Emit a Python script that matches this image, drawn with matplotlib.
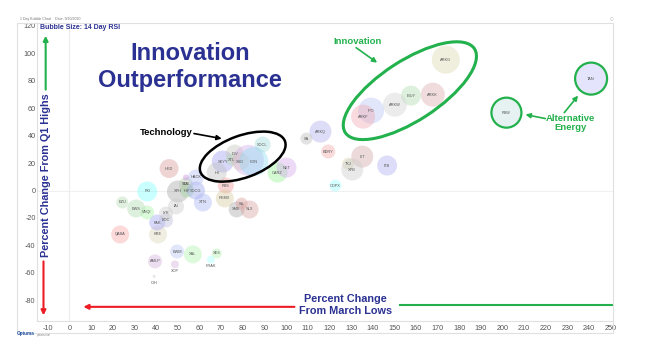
import numpy as np
import matplotlib.pyplot as plt
from matplotlib.patches import Ellipse, Rectangle
from matplotlib.transforms import ScaledTranslation

plt.rcParams['font.family'] = ['Liberation Sans', 'DejaVu Sans']
plt.rcParams['axes.unicode_minus'] = False

# data: % change from March lows (x), % change from Q1 highs (y), 14 day RSI (size)
tickers = ['HED', 'FXI', 'XPH', 'IHF', 'GDX', 'SOCG', 'HACK', 'ITA', 'XTN', 'IAI',
           'PBS', 'REMX', 'XME', 'SIL', 'SLX', 'SKYY', 'IGV', 'XTL', 'XSD', 'CIBR',
           'FDN', 'IHI', 'SOCL', 'CARZ', 'NET', 'ARKQ', 'SA', 'BDRY', 'LIT', 'TKJ',
           'XPB', 'COPX', 'ITB', 'ARKG', 'ARKK', 'IBUY', 'ARKW', 'IPO', 'ARKF', 'TAN',
           'PBW', 'QABA', 'KRE', 'PAK', 'EOC', 'IYR', 'VNQI', 'EZU', 'EWS', 'EWM',
           'XAL', 'FRAK', 'XES', 'AMLP', 'XOP', 'OIH']
from_march_lows = [46.0, 35.9, 50.1, 54.3, 53.8, 58.4, 58.4, 53.8, 61.6, 49.2,
                   72.2, 71.7, 77.2, 79.5, 83.2, 70.8, 76.3, 75.0, 78.9, 82.6,
                   85.1, 68.0, 89.2, 96.1, 100.2, 115.9, 109.4, 119.5, 135.2, 128.7,
                   130.6, 122.8, 146.7, 173.8, 167.8, 157.7, 150.3, 139.3, 135.6, 240.9,
                   201.8, 23.4, 40.9, 40.5, 44.6, 44.6, 35.9, 24.4, 30.8, 49.7,
                   57.0, 65.3, 68.0, 39.5, 48.7, 39.1]
from_q1_highs = [16.0, -0.7, -0.7, 0.0, 4.4, 0.0, 9.5, 9.5, -8.7, -11.6,
                 3.6, -5.8, -13.8, -9.5, -13.8, 21.1, 26.9, 22.5, 21.1, 22.0,
                 21.1, 13.1, 33.5, 13.1, 16.7, 42.9, 37.8, 28.4, 24.7, 19.6,
                 15.3, 3.6, 18.2, 95.3, 69.8, 69.1, 62.5, 58.2, 53.8, 81.5,
                 56.7, -32.0, -32.0, -23.3, -21.8, -16.7, -16.0, -8.7, -13.1, -44.4,
                 -46.5, -50.2, -45.8, -51.6, -53.8, -62.5]
rsi_14 = [38, 40, 44, 28, 28, 36, 32, 12, 36, 32,
          32, 36, 32, 24, 36, 44, 36, 24, 36, 62,
          58, 40, 32, 40, 40, 44, 24, 28, 44, 24,
          44, 24, 40, 56, 48, 40, 48, 52, 48, 64,
          60, 36, 36, 32, 28, 28, 28, 24, 36, 28,
          36, 16, 20, 28, 16, 6]
ringed = ['TAN', 'PBW']
hidden_labels = ['CIBR']  # sits under FDN, its label is covered

bubble_colors = ['#d99a9a', '#80ffff', '#a8a8a8', '#9ed49e', '#b0c8a8', '#9aa6ec', '#b4c0f4', '#c890e0', '#aab6f4', '#cccccc',
                 '#f49a9a', '#d8cca0', '#a8a8a8', '#dc9a9a', '#d8a0a0', '#a0a0f4', '#c4c4bc', '#b8dcb8', '#d8cca4', '#d4b0ec',
                 '#90dcf4', '#c0c0c0', '#a4dcdc', '#98f498', '#d4a8ec', '#b0b0ec', '#bcbcbc', '#f4a8a8', '#d4a8a8', '#d8d0a8',
                 '#cccccc', '#9cffff', '#b0b0f4', '#dcd8b0', '#dcacac', '#b0dcb0', '#d4d4d4', '#b8c4f4', '#f0a8b4', '#c0c0fc',
                 '#c4e0e0', '#fca8a8', '#dcd8b8', '#a4a4f4', '#bcbcdc', '#cccccc', '#a8f4a8', '#b4dcb4', '#b0dcb0', '#b8c4f4',
                 '#b0f4b0', '#a8ffff', '#b0f4b0', '#d4b0dc', '#d4b0dc', '#c4c4c4']

blue = '#2b3192'
green = '#22b14c'
red = '#ed1c24'

fig = plt.figure(figsize=(6.56, 3.52), dpi=100)
ax = fig.add_axes([0.0564, 0.0881, 0.878, 0.8466])

x = np.array(from_march_lows)
y = np.array(from_q1_highs)
sizes = (np.array(rsi_14) * 0.36) ** 2

ax.axhline(0, color='#f0f0f0', lw=0.8, zorder=0)
ax.axvline(0, color='#ececec', lw=0.8, zorder=0)

ax.scatter(x, y, s=sizes, c=bubble_colors, alpha=0.42, edgecolors='none', zorder=2)
ring = [tickers.index(t) for t in ringed]
ax.scatter(x[ring], y[ring], s=sizes[ring], facecolors='none', edgecolors=green, linewidths=1.6, zorder=3)

for t, xi, yi, r in zip(tickers, x, y, rsi_14):
    if t in hidden_labels:
        continue
    if r >= 20:
        ax.text(xi, yi, t, ha='center', va='center', fontsize=2.8, color='#555555', zorder=4)
    else:
        ax.annotate(t, (xi, yi), xytext=(0, -5), textcoords='offset points',
                    ha='center', va='center', fontsize=2.8, color='#555555', zorder=4)

ax.set_xlim(-15, 251)
ax.set_ylim(-95, 122)
ax.set_xticks(np.arange(-10, 251, 10))
ax.set_yticks(np.arange(-80, 121, 20))
ax.tick_params(length=0, labelsize=5.2, labelcolor='#555555')
ax.tick_params(axis='x', pad=3)
ax.tick_params(axis='y', pad=1)
for s in ['top', 'right']:
    ax.spines[s].set_visible(False)
for s in ['left', 'bottom']:
    ax.spines[s].set_color('#e0e0e0')
    ax.spines[s].set_linewidth(0.8)

# outer frame of the chart window
fig.patches.append(Rectangle((17 / 656, 1 - 333 / 352), 596 / 656, 310 / 352, transform=fig.transFigure,
                             fill=False, ec='#e0e0e0', lw=0.8))
fig.text(20 / 656, 1 - 19 / 352, '1 Day Bubble Chart    Date: 9/10/2020', fontsize=2.5, color='#777777', va='center')
fig.text(612 / 656, 1 - 19 / 352, '○', fontsize=3, color='#aaaaaa', ha='center', va='center',
         family='DejaVu Sans')
fig.text(17 / 656, 1 - 333 / 352, 'Optuma', fontsize=3.3, fontweight='bold', color='#1f4e9e', va='center')
fig.text(37 / 656, 1 - 335 / 352, 'optuma.com', fontsize=1.8, color='#888888', va='center')

# annotations
ax.text(55.6, 89.8, 'Innovation\nOutperformance', ha='center', va='center', fontsize=17,
        fontweight='bold', color=blue, linespacing=1.2)
ax.text(-13.8, 118.5, 'Bubble Size: 14 Day RSI', ha='left', va='center', fontsize=5,
        fontweight='bold', color=blue)
ax.text(-10.8, 10.9, 'Percent Change From Q1 Highs', rotation=90, ha='center', va='center',
        fontsize=7.8, fontweight='bold', color=blue)
ax.text(127.4, -83.3, 'Percent Change\nFrom March Lows', ha='center', va='center',
        fontsize=7.8, fontweight='bold', color=blue)

arrow = dict(arrowstyle='-|>', mutation_scale=7, shrinkA=0, shrinkB=0)
ax.annotate('', xy=(-11.0, 112.7), xytext=(-11.0, 73.5), arrowprops=dict(arrow, color=green, lw=1.5))
ax.annotate('', xy=(-12.0, -90.9), xytext=(-12.0, -51.6), arrowprops=dict(arrow, color=red, lw=1.5))
ax.annotate('', xy=(6.4, -84.7), xytext=(103.9, -84.7), arrowprops=dict(arrow, color=red, lw=1.5))
ax.plot([152.6, 260], [-83.6, -83.6], color=green, lw=1.5)

ax.text(44.8, 42.2, 'Technology', ha='center', va='center', fontsize=6.8, fontweight='bold', color='black')
ax.annotate('', xy=(70.3, 37.8), xytext=(57.5, 41.5), arrowprops=dict(arrow, color='black', lw=1.2))

ax.text(132.9, 108.4, 'Innovation', ha='center', va='center', fontsize=6.8, fontweight='bold', color=green)
ax.annotate('', xy=(142.1, 93.1), xytext=(132.4, 104.0), arrowprops=dict(arrow, color=green, lw=1.2))

ax.text(231.3, 49.1, 'Alternative\nEnergy', ha='center', va='center', fontsize=6.8,
        fontweight='bold', color=green, linespacing=1.1)
ax.annotate('', xy=(210.6, 55.3), xytext=(219.8, 52.4), arrowprops=dict(arrow, color=green, lw=1.2))
ax.annotate('', xy=(234.9, 69.1), xytext=(228.5, 56.7), arrowprops=dict(arrow, color=green, lw=1.2))

# hand drawn style ellipses, sized in inches around a data point
for cx, cy, w, h, ang, col, lw in [(80.0, 24.7, 0.9, 0.42, 20, 'black', 1.8),
                                    (157.2, 72.7, 1.54, 0.6, 33, green, 2.2)]:
    tr = fig.dpi_scale_trans + ScaledTranslation(cx, cy, ax.transData)
    ax.add_patch(Ellipse((0, 0), w, h, angle=ang, transform=tr, fill=False, ec=col, lw=lw, zorder=5))

fig.savefig('out.png', dpi=100)
